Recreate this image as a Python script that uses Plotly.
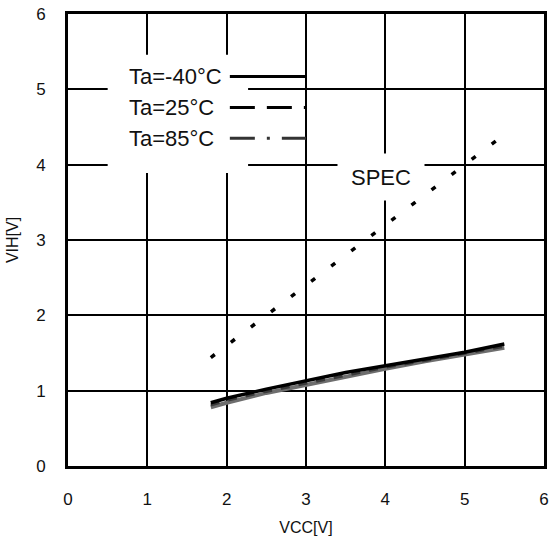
import plotly.graph_objects as go

# VIH vs VCC
vcc = [1.8, 2.0, 2.5, 3.0, 3.5, 4.0, 4.5, 5.0, 5.5]
vih_m40 = [0.84, 0.90, 1.02, 1.13, 1.24, 1.33, 1.42, 1.51, 1.62]
vih_25 = [0.81, 0.87, 0.99, 1.10, 1.21, 1.31, 1.40, 1.49, 1.59]
vih_85 = [0.78, 0.84, 0.97, 1.08, 1.19, 1.29, 1.39, 1.48, 1.57]

spec_vcc = [1.8, 5.4]
spec_vih = [1.44, 4.32]

legend_labels = ['Ta=-40°C', 'Ta=25°C', 'Ta=85°C']
ticks = [0, 1, 2, 3, 4, 5, 6]

FONT = 'Liberation Sans, Arial, sans-serif'

fig = go.Figure()

fig.add_trace(go.Scatter(x=spec_vcc, y=spec_vih, mode='lines',
                         line=dict(color='black', width=3.5, dash='5px,20.2px'),
                         name='SPEC'))
fig.add_trace(go.Scatter(x=vcc, y=vih_85, mode='lines',
                         line=dict(color='#6e6e6e', width=4), name=legend_labels[2]))
fig.add_trace(go.Scatter(x=vcc, y=vih_25, mode='lines',
                         line=dict(color='#3a3a3a', width=3, dash='dash'), name=legend_labels[1]))
fig.add_trace(go.Scatter(x=vcc, y=vih_m40, mode='lines',
                         line=dict(color='black', width=3.5), name=legend_labels[0]))

# white patch behind the hand-made legend (above grid, below traces)
fig.add_shape(type='rect', xref='x', yref='y', x0=0.5, x1=2.27, y0=3.89, y1=5.46,
              fillcolor='white', line_width=0, layer='between')

# legend: text on the left, line sample on the right
legend_y = [5.17, 4.76, 4.35]
legend_dash = ['solid', '25px,12px', '25px,12px,3px,12px']
legend_color = ['black', 'black', '#333333']
for label, ly, dash, col in zip(legend_labels, legend_y, legend_dash, legend_color):
    fig.add_annotation(x=0.74, y=ly, xref='x', yref='y', text=label, showarrow=False,
                       xanchor='left', yanchor='middle',
                       font=dict(family=FONT, size=22, color='#111111'))
    fig.add_shape(type='line', xref='x', yref='y', x0=2.04, x1=3.0, y0=ly, y1=ly,
                  line=dict(color=col, width=3, dash=dash), layer='above')

fig.add_annotation(x=3.95, y=3.83, xref='x', yref='y', text='SPEC', showarrow=False,
                   bgcolor='white', width=84, height=44,
                   font=dict(family=FONT, size=22, color='#111111'))

axis_common = dict(
    range=[0, 6], tickvals=ticks, showgrid=True, gridcolor='black', gridwidth=1.5,
    showline=True, linecolor='black', linewidth=3, mirror=True, zeroline=False,
    ticks='', automargin=False, tickfont=dict(family=FONT, size=17, color='#111111'),
)

fig.update_layout(
    width=549, height=542,
    margin=dict(l=68, r=5, t=14, b=76),
    paper_bgcolor='white', plot_bgcolor='white',
    showlegend=False,
    xaxis=dict(title=dict(text='VCC[V]', font=dict(family=FONT, size=16, color='#111111'),
                          standoff=14), ticklabelstandoff=16, **axis_common),
    yaxis=dict(title=dict(text='VIH[V]', font=dict(family=FONT, size=16, color='#111111'),
                          standoff=14), ticklabelstandoff=16, **axis_common),
)

# drop the browser's default body margin so the figure sits at the page corner
fig.write_html("out.html", config={'displayModeBar': False},
               post_script="document.body.style.margin='0';document.body.style.overflow='hidden';")
